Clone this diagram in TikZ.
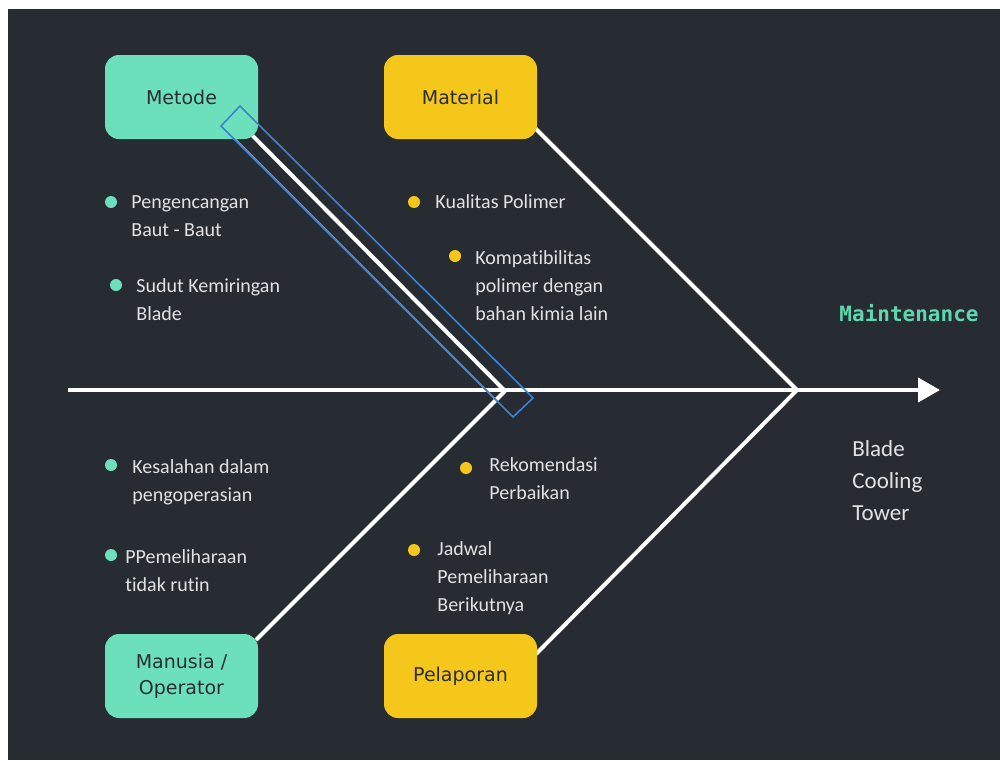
\documentclass[tikz,border=0pt]{standalone}
\usepackage{fontspec}
\setmainfont{Carlito}[Ligatures=CommonOff]
\newfontfamily\boxfont{DejaVu Sans}
\newfontfamily\headfont{DejaVu Sans Mono}
\usetikzlibrary{arrows.meta}
\definecolor{bg}{HTML}{272C33}
\definecolor{mint}{HTML}{6CE0BB}
\definecolor{gold}{HTML}{F5C71A}
\definecolor{boxtxt}{HTML}{2A2E33}
\definecolor{txt}{HTML}{E2E2E2}
\definecolor{teal}{HTML}{5ED6AE}
\definecolor{selblue}{HTML}{3B82D6}
\tikzset{
  catbox/.style={rounded corners=7pt, minimum width=76.5pt, minimum height=42pt, inner sep=2pt,
    align=center, text=boxtxt, font=\boxfont\fontsize{9.5}{13}\selectfont},
  mintbox/.style={catbox, fill=mint},
  goldbox/.style={catbox, fill=gold},
  bone/.style={draw=white, line width=2pt},
  dotm/.style={circle, fill=mint, minimum size=6pt, inner sep=0pt},
  doty/.style={circle, fill=gold, minimum size=6pt, inner sep=0pt},
  btext/.style={anchor=base west, align=left, inner sep=0pt, text=txt,
    font=\fontsize{10}{14}\selectfont},
}
\begin{document}
\begin{tikzpicture}[x=0.5pt,y=-0.5pt]
\useasboundingbox (0,0) rectangle (1000,760);
\fill[white] (0,0) rectangle (1000,760);
\fill[bg] (8,9) rectangle (1000,760);

% key coordinates
\coordinate (tail) at (68,390);
\coordinate (head) at (940,390);
\coordinate (J) at (797,390);
\coordinate (J2) at (505,391);
\coordinate (mets) at (244,127);
\coordinate (metsh) at (232,136);
\coordinate (J2sh) at (497,401);
\coordinate (mats) at (533,126);
\coordinate (mans) at (256,640);
\coordinate (pels) at (536,654);

% spine
\draw[bone, -{Triangle[length=11pt,width=12pt]}] (tail) -- (head);
% branches
\draw[bone] (mats) -- (J);
\draw[bone] (pels) -- (J);
\draw[bone] (mans) -- (J2);
\draw[draw={rgb,255:red,150;green,150;blue,150}, line width=1pt] (metsh) -- (J2sh);
\draw[bone] (mets) -- (J2);

% boxes
\node[mintbox] (met) at (181.5,97) {Metode};
\node[goldbox] (mat) at (460.5,97) {Material};
\node[mintbox] (man) at (181.5,676) {Manusia /\\Operator};
\node[goldbox] (pel) at (460.5,676) {Pelaporan};

% selection outline
\coordinate (s1) at (240,106);
\coordinate (s2) at (221,126);
\coordinate (s3) at (513,417);
\coordinate (s4) at (533,398);
\draw[selblue, line width=0.8pt] (s1) -- (s2) -- (s3) -- (s4) -- cycle;

% bullets: Metode (text anchored at the baseline of its last line)
\node[dotm] (b1) at (111,202) {};
\node[btext] (t1) at (131,236) {Pengencangan\\Baut - Baut};
\node[dotm] (b2) at (116,285) {};
\node[btext] (t2) at (136,320) {Sudut Kemiringan\\Blade};
% Material
\node[doty] (b3) at (414,202) {};
\node[btext] (t3) at (435,208) {Kualitas Polimer};
\node[doty] (b4) at (455,256) {};
\node[btext] (t4) at (475,320) {Kompatibilitas\\polimer dengan\\bahan kimia lain};
% Manusia
\node[dotm] (b5) at (111,465) {};
\node[btext] (t5) at (132,501) {Kesalahan dalam\\pengoperasian};
\node[dotm] (b6) at (111,555) {};
\node[btext] (t6) at (125,591) {PPemeliharaan\\tidak rutin};
% Pelaporan
\node[doty] (b7) at (466,468) {};
\node[btext] (t7) at (489,499) {Rekomendasi\\Perbaikan};
\node[doty] (b8) at (414,550) {};
\node[btext] (t8) at (437,611) {Jadwal\\Pemeliharaan\\Berikutnya};

% head labels
\node[text=teal, font=\headfont\bfseries\fontsize{10.5}{13}\selectfont] (mt) at (909,313) {Maintenance};
\node[anchor=base west, align=left, inner sep=0pt, text=txt, font=\fontsize{11.5}{16}\selectfont] (bct) at (852,520) {Blade\\Cooling\\Tower};
\end{tikzpicture}
\end{document}
